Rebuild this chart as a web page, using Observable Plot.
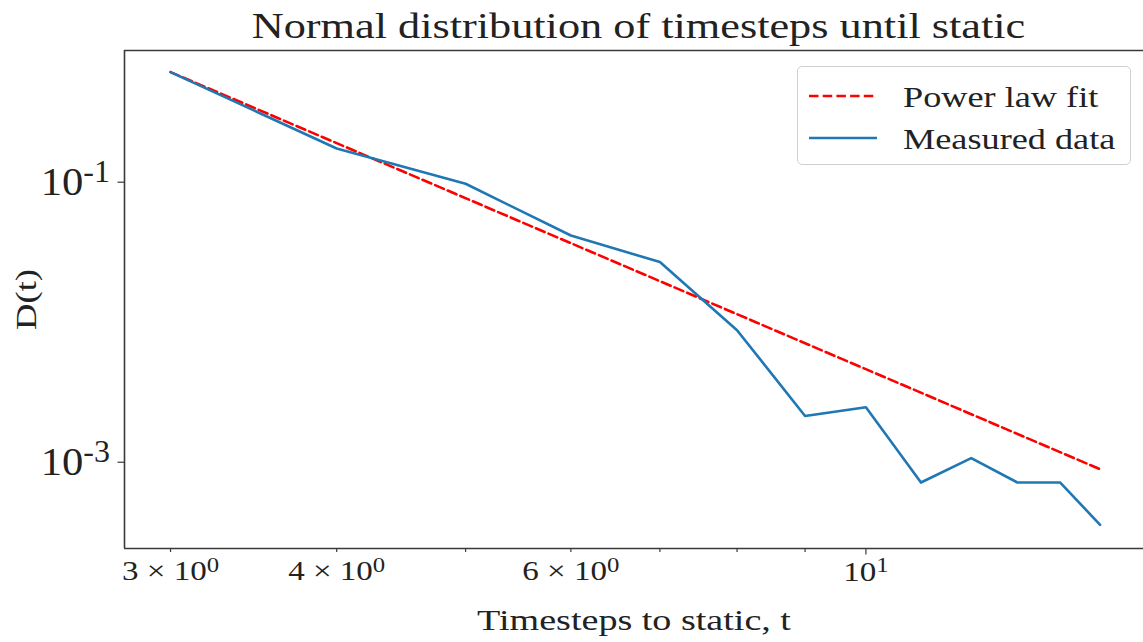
<!DOCTYPE html>
<html>
<head>
<meta charset="utf-8">
<script src="https://cdn.jsdelivr.net/npm/d3@7"></script>
<script src="https://cdn.jsdelivr.net/npm/@observablehq/plot@0.6"></script>
<style>
  html, body { margin: 0; padding: 0; background: #fff; }
  #wrap { position: relative; width: 1143px; height: 642px; overflow: hidden; font-family: "Liberation Serif", serif; color: #222; }
  #title { position: absolute; left: 124px; width: 1028px; top: 3px; text-align: center; font-size: 36px; line-height: 46px; color: #222; }
  #title span { display: inline-block; transform: scaleX(1.23); transform-origin: 50% 50%; white-space: nowrap; }
  #legend { position: absolute; left: 797px; top: 66px; width: 334px; height: 99px; border: 1px solid #d0d0d0; border-radius: 5px; background: rgba(255,255,255,0.85); box-sizing: border-box; }
  .lrow { position: absolute; left: 0; height: 40px; width: 100%; }
  .lrow svg { position: absolute; left: 10px; top: 0; }
  .lrow span { position: absolute; left: 105px; top: 3px; font-size: 29px; line-height: 34px; color: #222; white-space: nowrap; transform: scaleX(1.25); transform-origin: 0 50%; }
  #chart { position: absolute; left: 0; top: 0; }
</style>
</head>
<body>
<div id="wrap">
  <div id="chart"></div>
  <div id="title"><span>Normal distribution of timesteps until static</span></div>
  <div id="legend"></div>
</div>
<script>
// ---- data ----
const timesteps = [3, 4, 5, 6, 7, 8, 9, 10, 11, 12, 13, 14, 15];
const measured = [0.611, 0.174, 0.0975, 0.0416, 0.0269, 0.00877, 0.00214, 0.00247, 0.000716, 0.00107, 0.000716, 0.000716, 0.000357];
const fitT = [3, 15];
const fitD = [0.611, 0.000891];
const xMinorTicks = [3, 4, 5, 6, 7, 8, 9];
const xMinorLabels = {3: "3 × 10^0", 4: "4 × 10^0", 6: "6 × 10^0"};
const xMajorTicks = [10];
const xMajorLabels = {10: "10^1"};
const yTicks = [0.1, 0.001];
const yTickLabels = {0.1: "10^-1", 0.001: "10^-3"};
const seriesNames = ["Power law fit", "Measured data"];
const xDomain = [2.7702, 16.17];
const yDomain = [0.000242, 0.8724];

const measuredRows = timesteps.map((t, i) => ({t, d: measured[i]}));
const fitRows = fitT.map((t, i) => ({t, d: fitD[i]}));

const blue = "#1f77b4";
const red = "#ff0000";
const axisColor = "#3a3a3a";

const plot = Plot.plot({
  width: 1143,
  height: 642,
  marginLeft: 124,
  marginRight: 0,
  marginTop: 50,
  marginBottom: 94,
  style: { fontFamily: "Liberation Serif, serif", color: "#222", background: "transparent" },
  x: { type: "log", domain: xDomain },
  y: { type: "log", domain: yDomain },
  marks: [
    Plot.axisX({ ticks: xMinorTicks, tickSize: 4, tickPadding: 8, fontSize: 28, stroke: axisColor, strokeWidth: 1.2,
      tickFormat: d => xMinorLabels[d] || "", label: null }),
    Plot.axisX({ ticks: xMajorTicks, tickSize: 6.5, tickPadding: 6, fontSize: 28, stroke: axisColor, strokeWidth: 1.2,
      tickFormat: d => xMajorLabels[d] || "", label: "Timesteps to static, t", labelAnchor: "center", labelArrow: "none", labelOffset: 81 }),
    Plot.axisY({ ticks: yTicks, tickSize: 6.5, tickPadding: 8, fontSize: 41, stroke: axisColor, strokeWidth: 1.2,
      tickFormat: d => yTickLabels[d] || "", label: "D(t)", labelAnchor: "center", labelArrow: "none", labelOffset: 110 }),
    Plot.ruleY([yDomain[0], yDomain[1]], { stroke: axisColor, strokeWidth: 1.6 }),
    Plot.ruleX([xDomain[0]], { stroke: axisColor, strokeWidth: 1.6 }),
    Plot.line(fitRows, { x: "t", y: "d", stroke: red, strokeWidth: 2.6, strokeDasharray: "9.5,4.2" }),
    Plot.line(measuredRows, { x: "t", y: "d", stroke: blue, strokeWidth: 2.6 })
  ]
});
document.getElementById("chart").appendChild(plot);

// horizontal stretch helper (Computer Modern is wider than Liberation Serif)
function stretch(t, k) {
  const tr = t.getAttribute("transform");
  if (tr) t.setAttribute("transform", tr + ` scale(${k},1)`);
  else {
    const x = +t.getAttribute("x") || 0;
    t.setAttribute("transform", `translate(${x * (1 - k)},0) scale(${k},1)`);
  }
}

// axis title font sizes
plot.querySelectorAll('g[aria-label="x-axis label"] text').forEach(t => { t.setAttribute("font-size", 30); stretch(t, 1.27); });
plot.querySelectorAll('g[aria-label="y-axis label"] text').forEach(t => { t.setAttribute("font-size", 30); stretch(t, 1.22); });
plot.querySelectorAll('g[aria-label="x-axis tick label"] text').forEach(t => stretch(t, 1.18));
plot.querySelectorAll('g[aria-label="y-axis tick label"] text').forEach(t => stretch(t, 1.04));

// superscripts for tick labels
const ns = "http://www.w3.org/2000/svg";
plot.querySelectorAll("text").forEach(t => {
  const s = t.textContent;
  if (s.includes("^")) {
    const [base, sup] = s.split("^");
    while (t.firstChild) t.removeChild(t.firstChild);
    const a = document.createElementNS(ns, "tspan"); a.textContent = base;
    const b = document.createElementNS(ns, "tspan"); b.textContent = sup;
    b.setAttribute("dy", "-0.42em"); b.setAttribute("font-size", "75%");
    t.append(a, b);
  }
});

// legend
const legend = document.getElementById("legend");
const styles = [
  { stroke: red, dash: "9.5,4.2" },
  { stroke: blue, dash: null }
];
seriesNames.forEach((name, i) => {
  const row = document.createElement("div");
  row.className = "lrow";
  row.style.top = (10 + i * 42) + "px";
  const svg = d3.create("svg").attr("width", 70).attr("height", 40);
  svg.append("line").attr("x1", 1).attr("x2", 69).attr("y1", 19).attr("y2", 19)
    .attr("stroke", styles[i].stroke).attr("stroke-width", 2.6)
    .attr("stroke-dasharray", styles[i].dash);
  row.appendChild(svg.node());
  const sp = document.createElement("span");
  sp.textContent = name;
  row.appendChild(sp);
  legend.appendChild(row);
});
</script>
</body>
</html>
